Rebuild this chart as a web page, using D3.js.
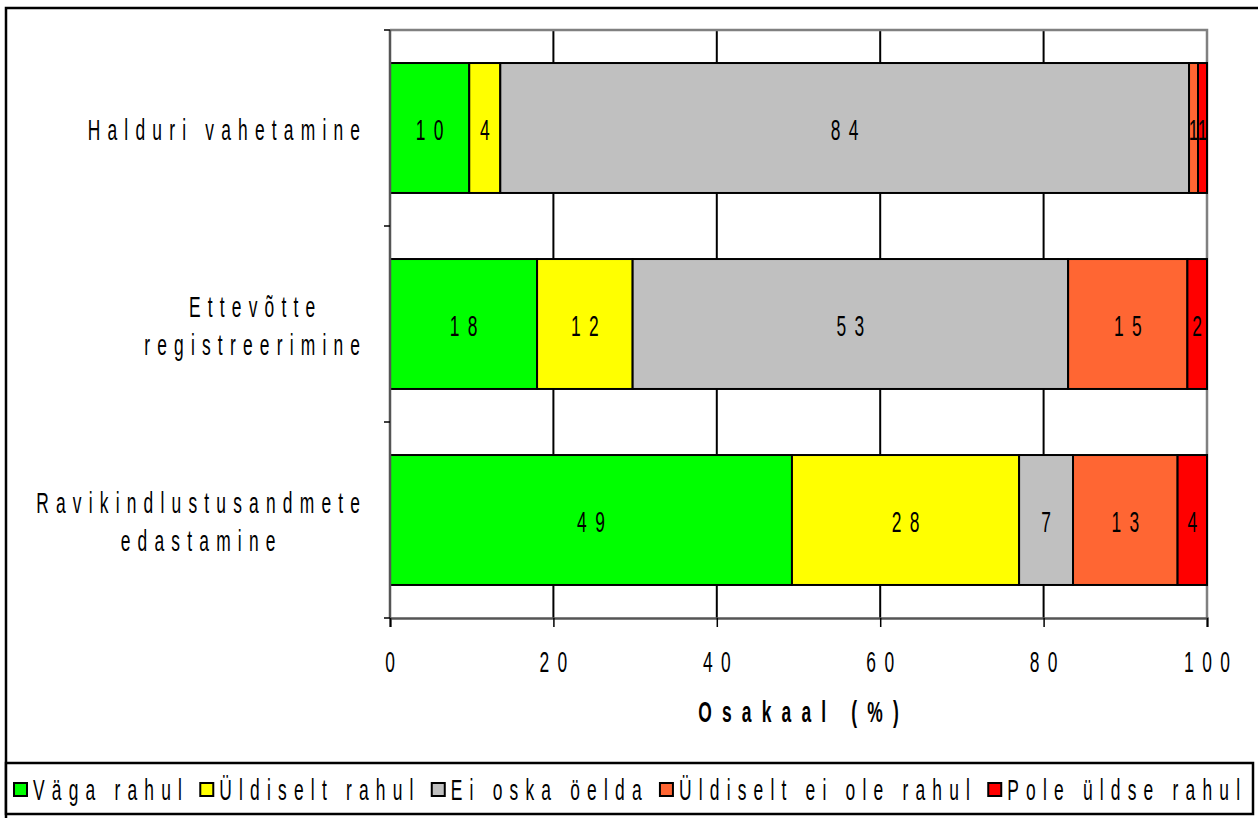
<!DOCTYPE html>
<html>
<head>
<meta charset="utf-8">
<script src="https://cdn.jsdelivr.net/npm/d3@7"></script>
<style>
  html, body { margin: 0; padding: 0; background: #fff; }
  svg { display: block; }
  text { font-family: "Liberation Sans", Arial, sans-serif; fill: #000; }
</style>
</head>
<body>
<script>
// Satisfaction with e-services, share of respondents (%)
const categories = ["Halduri vahetamine", "Ettevõtte registreerimine", "Ravikindlustusandmete edastamine"];
const categoryLines = [["Halduri vahetamine"], ["Ettevõtte", "registreerimine"], ["Ravikindlustusandmete", "edastamine"]];
const seriesNames = ["Väga rahul", "Üldiselt rahul", "Ei oska öelda", "Üldiselt ei ole rahul", "Pole üldse rahul"];
const vagaRahul = [9.7, 18.0, 49.2];
const uldiseltRahul = [3.8, 11.7, 27.8];
const eiOskaOelda = [84.3, 53.3, 6.6];
const uldiseltEiOleRahul = [1.1, 14.6, 12.8];
const poleUldseRahul = [1.1, 2.4, 3.6];
const xTicks = [0, 20, 40, 60, 80, 100];
const axisTitle = "Osakaal (%)";
const seriesColors = ["#00ff00", "#ffff00", "#c0c0c0", "#ff6633", "#ff0000"];

const seriesValues = [vagaRahul, uldiseltRahul, eiOskaOelda, uldiseltEiOleRahul, poleUldseRahul];
const table = categories.map((c, i) => {
  const row = { category: c };
  seriesNames.forEach((s, j) => { row[s] = seriesValues[j][i]; });
  return row;
});

const W = 1258, H = 818;
const plot = { left: 390, right: 1207, top: 30, bottom: 618 };

// squeezed, letter-spaced typography
const FS = 29, SX = 0.6, LS = 12, LS_NUM = 14;

const svg = d3.select("body").append("svg").attr("width", W).attr("height", H);
svg.append("rect").attr("width", W).attr("height", H).attr("fill", "#fff");

function spaced(parent, str, x, y, anchor, opts = {}) {
  const ls = opts.ls != null ? opts.ls : LS;
  const t = parent.append("text")
    .attr("font-size", opts.size || FS)
    .attr("font-weight", opts.weight || "normal")
    .attr("letter-spacing", ls)
    .attr("transform", `translate(${x},${y}) scale(${SX},1)`)
    .text(str);
  const w = t.node().getComputedTextLength() - ls;
  const off = anchor === "middle" ? -w / 2 : anchor === "end" ? -w : 0;
  t.attr("x", off);
  return { node: t, width: w * SX };
}

const x = d3.scaleLinear().domain([0, 100]).range([plot.left, plot.right]);
const y = d3.scaleBand().domain(categories).range([plot.top, plot.bottom]).padding(0);
const barFrac = 0.663;
const barH = y.bandwidth() * barFrac;

// outer frame
svg.append("rect").attr("x", 6).attr("y", 8).attr("width", W).attr("height", H)
  .attr("fill", "none").attr("stroke", "#000").attr("stroke-width", 2.5);

// vertical grid lines
svg.append("g").selectAll("line").data(xTicks.filter(t => t > 0 && t < 100)).join("line")
  .attr("x1", d => x(d)).attr("x2", d => x(d))
  .attr("y1", plot.top).attr("y2", plot.bottom)
  .attr("stroke", "#000").attr("stroke-width", 2);

// plot frame (top and right)
svg.append("path")
  .attr("d", `M${x(0)},${plot.top}H${x(100)}V${plot.bottom}`)
  .attr("fill", "none").attr("stroke", "#808080").attr("stroke-width", 2.5);

// stacked bars
const stack = d3.stack().keys(seriesNames);
const layers = stack(table);
const gBars = svg.append("g");
layers.forEach((layer, j) => {
  gBars.append("g").selectAll("rect").data(layer).join("rect")
    .attr("x", d => x(d[0]))
    .attr("width", d => x(d[1]) - x(d[0]))
    .attr("y", d => y(d.data.category) + (y.bandwidth() - barH) / 2)
    .attr("height", barH)
    .attr("fill", seriesColors[j])
    .attr("stroke", "#000").attr("stroke-width", 2);
});

// value labels
const fmt = d3.format(".0f");
const gLabels = svg.append("g");
layers.forEach((layer, j) => {
  layer.forEach(d => {
    const cx = (x(d[0]) + x(d[1])) / 2;
    const cy = y(d.data.category) + y.bandwidth() / 2;
    spaced(gLabels, fmt(d.data[layer.key]), cx, cy + 12, "middle", { ls: LS_NUM });
  });
});

// x axis
const xAxis = d3.axisBottom(x).tickValues(xTicks).tickSize(9).tickFormat("");
const gx = svg.append("g").attr("transform", `translate(0,${plot.bottom})`).call(xAxis);
gx.select(".domain").attr("stroke", "#555").attr("stroke-width", 2.5);
gx.selectAll(".tick line").attr("stroke", "#000").attr("stroke-width", 1.5);
const gxLabels = svg.append("g");
xTicks.forEach(t => spaced(gxLabels, String(t), x(t), 672, "middle", { ls: LS_NUM }));

// y axis: line with ticks at category boundaries
const gy = svg.append("g");
gy.append("line").attr("x1", plot.left).attr("x2", plot.left)
  .attr("y1", plot.top).attr("y2", plot.bottom)
  .attr("stroke", "#555").attr("stroke-width", 2.5);
const bounds = categories.map(c => y(c)).concat([y(categories[categories.length - 1]) + y.bandwidth()]);
gy.selectAll("line.tick").data(bounds).join("line").attr("class", "tick")
  .attr("x1", plot.left - 6).attr("x2", plot.left)
  .attr("y1", d => d).attr("y2", d => d)
  .attr("stroke", "#000").attr("stroke-width", 1.5);

// category labels, lines centred on each other, block right-aligned
const labelRight = 360, lineH = 38;
categories.forEach((c, i) => {
  const lines = categoryLines[i];
  const g = gy.append("g");
  const cy = y(c) + y.bandwidth() / 2;
  const probe = lines.map(l => spaced(g, l, 0, 0, "start"));
  const maxW = d3.max(probe, p => p.width);
  probe.forEach(p => p.node.remove());
  const cx = labelRight - maxW / 2;
  lines.forEach((l, k) => {
    const by = cy + 12 + (k - (lines.length - 1) / 2) * lineH;
    spaced(g, l, cx, by, "middle");
  });
});

// axis title
spaced(svg, axisTitle, (plot.left + plot.right) / 2, 722, "middle", { weight: "bold", ls: 17 });

// legend
const legendBox = { x: 6, y: 763, w: 1247, h: 51 };
const gLeg = svg.append("g");
gLeg.append("rect").attr("x", legendBox.x).attr("y", legendBox.y)
  .attr("width", legendBox.w).attr("height", legendBox.h)
  .attr("fill", "#fff").attr("stroke", "#000").attr("stroke-width", 2.5);
const sw = 13, swGap = 6, legStart = 14, legEnd = 1240, legBase = 800;
const probes = seriesNames.map(s => spaced(gLeg, s, 0, 0, "start"));
const widths = probes.map(p => p.width);
probes.forEach(p => p.node.remove());
const itemW = widths.map(w => sw + swGap + w);
const gap = (legEnd - legStart - d3.sum(itemW)) / (seriesNames.length - 1);
let lx = legStart;
seriesNames.forEach((s, j) => {
  gLeg.append("rect").attr("x", lx).attr("y", 783).attr("width", sw).attr("height", sw)
    .attr("fill", seriesColors[j]).attr("stroke", "#000").attr("stroke-width", 2);
  spaced(gLeg, s, lx + sw + swGap, legBase, "start");
  lx += itemW[j] + gap;
});
</script>
</body>
</html>
